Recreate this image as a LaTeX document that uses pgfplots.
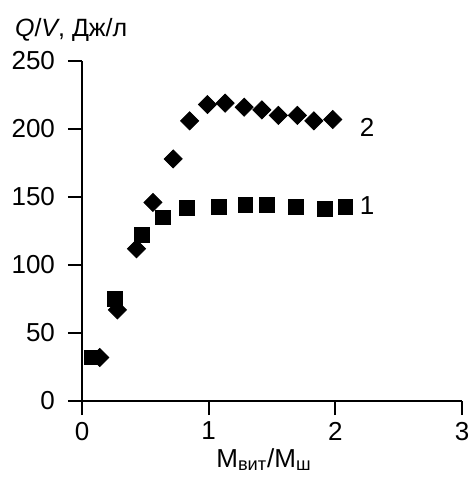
\documentclass[border=0pt]{standalone}
\usepackage{fontspec}
\setmainfont{Liberation Sans}
\usepackage{pgfplots}
\pgfplotsset{compat=1.18}

\begin{document}
\begin{tikzpicture}
\begin{axis}[
  scale only axis, width=190pt, height=170pt,
  xmin=0, xmax=3, ymin=0, ymax=250,
  axis x line*=bottom, axis y line*=left,
  axis line style={line width=0.9pt, -},
  xtick={0,1,2,3}, ytick={0,50,100,150,200,250},
  tick align=outside, major tick length=7pt,
  tick style={line width=0.9pt, black},
  /pgf/number format/assume math mode=true,
  ticklabel style={font=\fontsize{13}{15}\selectfont},
  xticklabel style={yshift=0pt},
  yticklabel style={xshift=-3pt},
  xlabel={M\textsubscript{вит}/M\textsubscript{ш}},
  xlabel style={font=\fontsize{13}{15}\selectfont, yshift=3pt, xshift=-4pt},
  clip=false,
]
% series 1 (squares)
\addplot[only marks, mark=square*, mark size=3.7pt, black] coordinates {
  (0.08,32) (0.26,75) (0.47,122) (0.64,135) (0.83,142) (1.08,142.5)
  (1.29,144) (1.46,144) (1.69,143) (1.92,141.5) (2.08,143)
};
% series 2 (diamonds)
\addplot[only marks, mark=square*, mark size=3.2pt, mark options={rotate=45}, black] coordinates {
  (0.14,32) (0.28,67) (0.43,112) (0.56,146) (0.72,178) (0.85,206)
  (0.99,218) (1.13,219) (1.28,216) (1.42,214) (1.55,210) (1.70,210)
  (1.83,206) (1.98,207)
};
\node[font=\fontsize{13}{15}\selectfont] at (axis cs:2.25,143.5) {1};
\node[font=\fontsize{13}{15}\selectfont] at (axis cs:2.25,201.5) {2};
\node[font=\fontsize{12.5}{14}\selectfont, anchor=west] at (axis description cs:0,1) [xshift=-37pt, yshift=15.5pt] {\textit{Q}/\textit{V}, Дж/л};
\end{axis}
\pgfresetboundingbox
\path[use as bounding box] (-41pt,-38.5pt) rectangle (194pt,200.5pt);
\end{tikzpicture}
\end{document}
